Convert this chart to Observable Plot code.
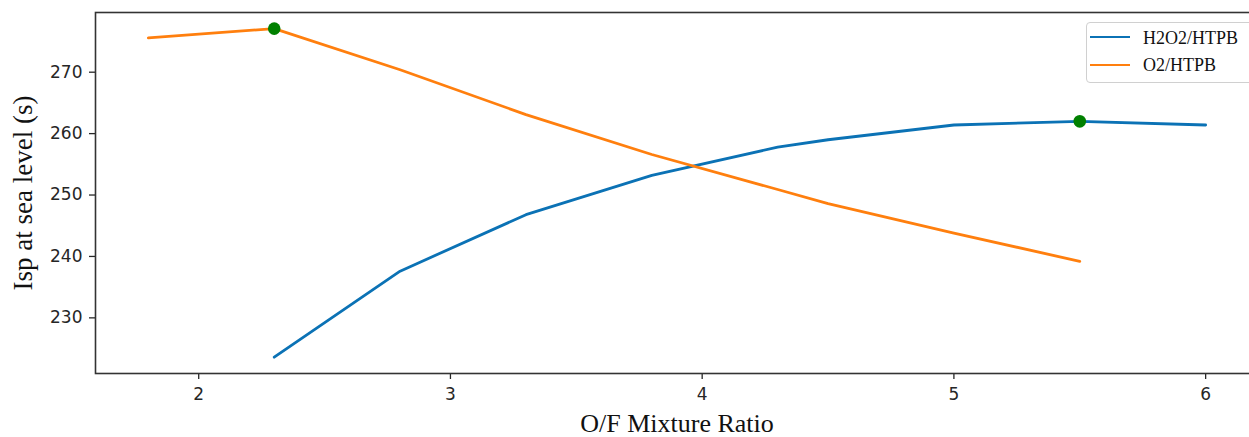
<!DOCTYPE html>
<html>
<head>
<meta charset="utf-8">
<script src="https://cdn.jsdelivr.net/npm/d3@7"></script>
<script src="https://cdn.jsdelivr.net/npm/@observablehq/plot@0.6"></script>
<style>
  html, body { margin: 0; padding: 0; background: #fff; overflow: hidden; width: 1249px; height: 437px; }
  #chart { position: relative; width: 1290px; height: 437px; }
  .legend {
    position: absolute; left: 1086px; top: 22px; width: 176px; height: 61px;
    border: 1px solid #d0d0d0; border-radius: 4px; background: rgba(255,255,255,0.85);
    box-sizing: border-box; font-family: "Liberation Serif", "Times New Roman", serif;
    font-size: 18px; color: #111;
  }
  .legend .swatch { position: absolute; left: 3px; width: 40px; height: 0; border-top: 2.8px solid; }
  .legend .name { position: absolute; left: 56px; line-height: 20px; white-space: nowrap; }
</style>
</head>
<body>
<div id="chart"></div>
<script>
// Specific impulse at sea level versus oxidiser/fuel mixture ratio
const seriesNames = ["H2O2/HTPB", "O2/HTPB"];
const seriesColors = ["#0b72b5", "#ff7f0e"];

const ratioH2O2 = [2.3, 2.8, 3.3, 3.8, 4.3, 4.5, 5.0, 5.5, 6.0];
const ispH2O2   = [223.6, 237.6, 246.8, 253.2, 257.8, 259.0, 261.4, 262.0, 261.4];

const ratioO2 = [1.8, 2.3, 2.8, 3.3, 3.8, 4.3, 4.5, 5.0, 5.5];
const ispO2   = [275.6, 277.1, 270.4, 263.1, 256.6, 250.9, 248.6, 243.8, 239.2];

// Peak Isp of each propellant pair
const optimumRatio = [2.3, 5.5];
const optimumIsp   = [277.1, 262.0];

const xTicks = [2, 3, 4, 5, 6];
const yTicks = [230, 240, 250, 260, 270];
const xLabel = "O/F Mixture Ratio";
const yLabel = "Isp at sea level (s)";

const rows = [
  ...ratioH2O2.map((r, i) => ({ratio: r, isp: ispH2O2[i], series: seriesNames[0]})),
  ...ratioO2.map((r, i) => ({ratio: r, isp: ispO2[i], series: seriesNames[1]}))
];
const optima = optimumRatio.map((r, i) => ({ratio: r, isp: optimumIsp[i]}));

const serif = "'Liberation Serif', 'Times New Roman', serif";
const sans = "'DejaVu Sans', sans-serif";

const chart = Plot.plot({
  width: 1290,
  height: 437,
  marginLeft: 95,
  marginRight: 32,
  marginTop: 12,
  marginBottom: 64,
  style: {background: "#fff", fontFamily: sans},
  x: {domain: [1.59, 6.21]},
  y: {domain: [220.94, 279.72]},
  color: {domain: seriesNames, range: seriesColors},
  marks: [
    Plot.axisX({ticks: xTicks, tickFormat: d => String(d), tickSize: 6, tickPadding: 8, fontSize: 17, color: "#262626", strokeWidth: 1.3, label: null}),
    Plot.axisY({ticks: yTicks, tickFormat: d => String(d), tickSize: 6, tickPadding: 7, fontSize: 17, color: "#262626", strokeWidth: 1.3, label: null}),
    Plot.line(rows, {x: "ratio", y: "isp", z: "series", stroke: "series", strokeWidth: 2.8}),
    Plot.dot(optima, {x: "ratio", y: "isp", r: 6.3, fill: "green", stroke: "none"}),
    Plot.frame({stroke: "#333", strokeWidth: 1.6}),
    Plot.text([xLabel], {text: d => d, frameAnchor: "bottom", textAnchor: "middle", lineAnchor: "middle", dy: 50.5, fontSize: 26, fontFamily: serif, fill: "#111"}),
    Plot.text([yLabel], {text: d => d, frameAnchor: "left", textAnchor: "middle", lineAnchor: "middle", rotate: -90, dx: -72.6, fontSize: 27, fontFamily: serif, fill: "#111"})
  ]
});

const host = document.getElementById("chart");
host.appendChild(chart);

// Legend box in the upper right corner
const legend = document.createElement("div");
legend.className = "legend";
seriesNames.forEach((name, i) => {
  const cy = 14.7 + i * 27.6;
  const sw = document.createElement("div");
  sw.className = "swatch";
  sw.style.top = (cy - 1.4) + "px";
  sw.style.borderTopColor = seriesColors[i];
  const tx = document.createElement("div");
  tx.className = "name";
  tx.style.top = (cy - 10) + "px";
  tx.textContent = name;
  legend.appendChild(sw);
  legend.appendChild(tx);
});
host.appendChild(legend);
</script>
</body>
</html>
